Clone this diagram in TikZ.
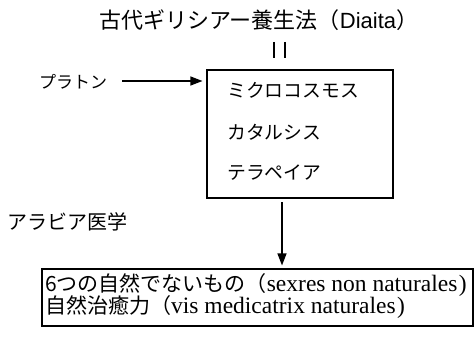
\documentclass[tikz,border=0pt]{standalone}
\usepackage{fontspec}
\setmainfont{Liberation Serif}
\newfontfamily\jp{Noto Sans CJK JP}
\newfontfamily\lsans{Liberation Sans}
\usetikzlibrary{arrows.meta,calc}
\tikzset{
  lbl/.style={inner sep=0pt, anchor=west},
  arr/.style={line width=1.2pt, -{Triangle[length=12pt,width=9pt]}},
  frame/.style={draw, line width=1.1pt, inner sep=0pt},
  bar/.style={line width=1.5pt}
}
\begin{document}
\begin{tikzpicture}[x=1pt,y=1pt]
\useasboundingbox (0,0) rectangle (474,-337);
% title
\node[lbl] (title) at (99,-20) {\fontsize{22}{24}\selectfont{\jp 古代ギリシアー養生法（}{\lsans Diaita}{\jp ）}};
\coordinate (bA) at (274,-42);
\coordinate (bB) at (285,-42);
\draw[bar] (bA) -- ++(0,-16);
\draw[bar] (bB) -- ++(0,-16);
% main box
\node[frame, minimum width=186pt, minimum height=128pt] (box) at (300,-134) {};
\node[lbl] (m1) at (227,-90) {\fontsize{18.8}{22}\selectfont\jp ミクロコスモス};
\node[lbl] (m2) at (227,-132) {\fontsize{18.8}{22}\selectfont\jp カタルシス};
\node[lbl] (m3) at (227,-173) {\fontsize{18.8}{22}\selectfont\jp テラペイア};
% plato
\node[lbl] (plato) at (39,-82) {\fontsize{17}{20}\selectfont\jp プラトン};
\coordinate (pa) at (122,-81);
\draw[arr, shorten >=4pt] (pa) -- (pa -| box.west);
% arab
\node[lbl] (arab) at (7,-222) {\fontsize{20}{22}\selectfont\jp アラビア医学};
% bottom box
\node[frame, minimum width=431pt, minimum height=57pt] (bottom) at (257.5,-297.5) {};
\coordinate (da) at (282,-202);
\draw[arr, shorten >=3pt] (da) -- (da |- bottom.north);
\node[lbl] (b1) at (45,-285) {\fontsize{21}{22}\selectfont{\jp 6つの自然でないもの（}{\fontsize{23.5}{24}\selectfont sexres non naturales\kern1.5pt)}};
\node[lbl] (b2) at (45,-307) {\fontsize{21}{22}\selectfont{\jp 自然治癒力（}{\fontsize{23.5}{24}\selectfont vis medicatrix naturales\kern1.5pt)}};
\end{tikzpicture}
\end{document}
